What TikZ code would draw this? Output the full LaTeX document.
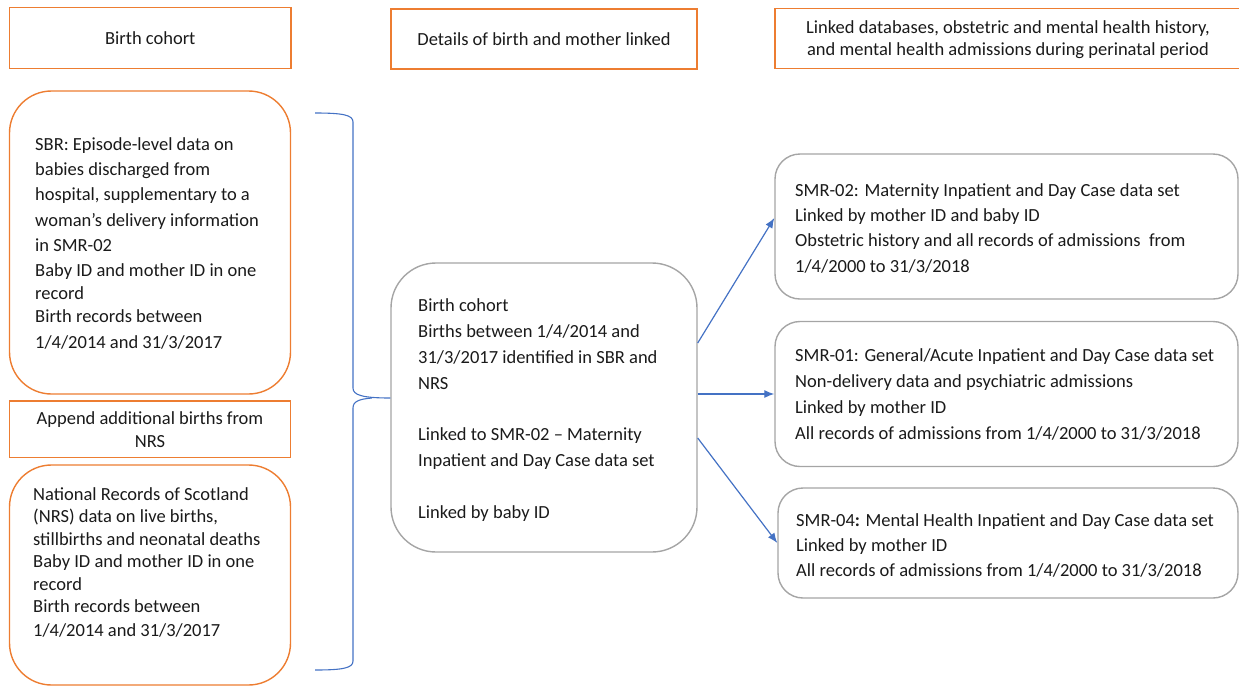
\documentclass[tikz,border=0pt]{standalone}
\usepackage{fontspec}
\setmainfont{Carlito}
\usetikzlibrary{arrows.meta}
\definecolor{orng}{HTML}{ED7D31}
\definecolor{blu}{HTML}{4472C4}
\definecolor{gry}{HTML}{A5A5A5}
\definecolor{txt}{HTML}{1A1A1A}
\newcommand\myTS{\rule{0pt}{20pt}}
\begin{document}
\begin{tikzpicture}[x=1pt,y=-1pt,
  obox/.style={draw=orng,line width=1.4pt,inner sep=0pt,text=txt,align=center,
    font=\fontsize{18.5}{23}\selectfont},
  rbox/.style={draw=orng,line width=1.4pt,inner sep=0pt,rounded corners=42pt},
  gbox/.style={draw=gry,line width=1.4pt,inner sep=0pt,rounded corners=25pt},
  txtblock/.style={anchor=north west,inner sep=0pt,align=left,text=txt},
  link/.style={draw=blu,line width=1.2pt,-{Latex[length=10pt,width=8pt]}},
  bracestyle/.style={draw=blu,line width=1.1pt}]
\useasboundingbox (0,0) rectangle (1239,686);
\clip (0,0) rectangle (1239,686);

% headers
\node[obox,minimum width=281.5pt,minimum height=60.5pt] (h1) at (150.25,38) {Birth cohort};
\node[obox,minimum width=306pt,minimum height=60pt] (h2) at (544,39) {Details of birth and mother linked};
\node[obox,minimum width=500pt,minimum height=60pt] (h3) at (1025,38.3) {};
\node[txtblock,anchor=north,align=center,font=\fontsize{18.5}{22}\selectfont] (h3t) at (1008,13)
  {\myTS Linked databases, obstetric and mental health history,\\and mental health admissions during perinatal period};

% left column
\node[rbox,minimum width=281pt,minimum height=303pt] (sbr) at (150,242.5) {};
\node[txtblock,font=\fontsize{18.5}{25.3}\selectfont] (sbrt) at (35,130)
  {\myTS SBR: Episode-level data on\\babies discharged from\\hospital, supplementary to a\\woman’s delivery information\\in SMR-02\\Baby ID and mother ID in one\\[-3pt]record\\[-1.5pt]Birth records between\\1/4/2014 and 31/3/2017};

\node[obox,minimum width=281pt,minimum height=56.5pt] (app) at (150,429.25)
  {Append additional births from\\NRS};

\node[rbox,minimum width=281pt,minimum height=220pt] (nrs) at (150,575) {};
\node[txtblock,font=\fontsize{18.5}{22.5}\selectfont] (nrst) at (33,480)
  {\myTS National Records of Scotland\\(NRS) data on live births,\\stillbirths and neonatal deaths\\Baby ID and mother ID in one\\record\\Birth records between\\[1.5pt]1/4/2014 and 31/3/2017};

% centre
\node[gbox,rounded corners=45pt,minimum width=306pt,minimum height=289pt] (cb) at (544,407.5) {};
\node[txtblock,font=\fontsize{18.5}{25.8}\selectfont] (cbt) at (418,291.7)
  {\myTS Birth cohort\\Births between 1/4/2014 and\\31/3/2017 identified in SBR and\\NRS\\[25.8pt]Linked to SMR-02 -- Maternity\\Inpatient and Day Case data set\\[25.8pt]Linked by baby ID};

% right column
\node[gbox,minimum width=463pt,minimum height=145pt] (b1) at (1006.5,226.5) {};
\node[txtblock,font=\fontsize{18.5}{25.3}\selectfont] (b1t) at (795,176)
  {\myTS SMR-02: Maternity Inpatient and Day Case data set\\Linked by mother ID and baby ID\\Obstetric history and all records of admissions~ from\\1/4/2000 to 31/3/2018};

\node[gbox,minimum width=463pt,minimum height=145pt] (b2) at (1006.5,394) {};
\node[txtblock,font=\fontsize{18.5}{25.7}\selectfont] (b2t) at (795,341.7)
  {\myTS SMR-01: General/Acute Inpatient and Day Case data set\\Non-delivery data and psychiatric admissions\\Linked by mother ID\\All records of admissions from 1/4/2000 to 31/3/2018};

\node[gbox,minimum width=460pt,minimum height=110pt] (b3) at (1008,543) {};
\node[txtblock,font=\fontsize{18.5}{25}\selectfont] (b3t) at (796,506.7)
  {\myTS SMR-04\textbf{:} Mental Health Inpatient and Day Case data set\\Linked by mother ID\\All records of admissions from 1/4/2000 to 31/3/2018};

% brace
\coordinate (btop) at (315,113);
\coordinate (bbot) at (315,670);
\coordinate (btip) at (cb.west |- 0,398);
\draw[bracestyle] (btop) .. controls (343,113) and (353,115) .. (353,122)
  -- (353,388) .. controls (353,395) and (362,398) .. (btip);
\draw[bracestyle] (372,398) .. controls (360,399) and (353,401) .. (353,408)
  -- (353,661) .. controls (353,668) and (343,670) .. (bbot);

% arrows
\draw[link] ([yshift=64.5pt]cb.east) -- ([yshift=8.5pt]b1.west);
\draw[link] ([yshift=13.5pt]cb.east) -- (b2.west);
\draw[link] ([yshift=-30.5pt]cb.east) -- (b3.west);
\end{tikzpicture}
\end{document}
